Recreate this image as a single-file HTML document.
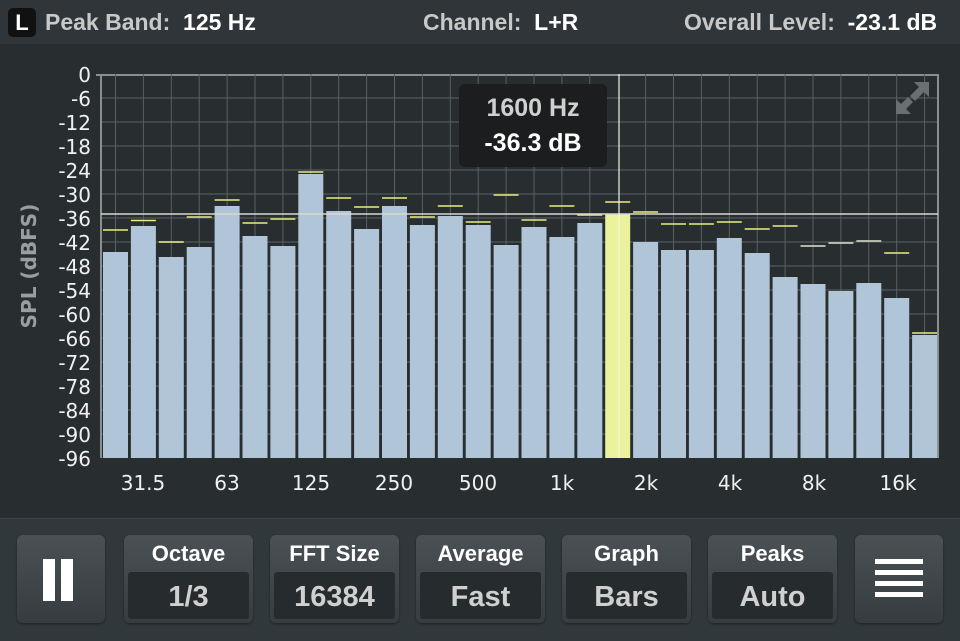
<!DOCTYPE html>
<html><head><meta charset="utf-8"><style>
body{margin:0;width:960px;height:640px;background:#282d2f;overflow:hidden;font-family:"Liberation Sans",sans-serif;position:relative}
.top{position:absolute;left:0;top:0;width:960px;height:44px;background:#2f3538;color:#c8c8c8;font-weight:bold;font-size:23px}
.top span{position:absolute;top:9px;white-space:pre}
.top b{color:#fff}
.bot{position:absolute;left:0;top:518px;width:960px;height:122px;background:#31383b;border-top:1px solid #3c4447}
.btn{position:absolute;top:16px;height:88px;border-radius:6px;background:linear-gradient(#4a5155,#363d40);box-shadow:0 1px 2px #1d2224}
.btn .l{position:absolute;top:6px;width:100%;text-align:center;color:#fff;font-weight:bold;font-size:22px}
.btn .v{position:absolute;left:4px;right:4px;top:37px;height:47px;background:#262b2d;border-radius:3px;text-align:center;color:#d0d0d0;font-weight:bold;font-size:29px;line-height:50px}
</style></head><body>
<div class="top">
<div style="position:absolute;left:8px;top:8px;width:28px;height:29px;background:#111;border-radius:5px;color:#fff;text-align:center;line-height:29px;font-size:22px">L</div>
<span style="left:45px">Peak Band:  <b>125 Hz</b></span>
<span style="left:423px">Channel:  <b>L+R</b></span>
<span style="left:684px">Overall Level:  <b>-23.1 dB</b></span>
</div>
<svg width="960" height="518" style="position:absolute;left:0;top:0" font-family="DejaVu Sans, sans-serif">
<g stroke="#41484b" stroke-width="2">
<line x1="101" x2="938" y1="98" y2="98"/><line x1="101" x2="938" y1="122" y2="122"/><line x1="101" x2="938" y1="146" y2="146"/><line x1="101" x2="938" y1="170" y2="170"/><line x1="101" x2="938" y1="194" y2="194"/><line x1="101" x2="938" y1="218" y2="218"/><line x1="101" x2="938" y1="242" y2="242"/><line x1="101" x2="938" y1="266" y2="266"/><line x1="101" x2="938" y1="290" y2="290"/><line x1="101" x2="938" y1="314" y2="314"/><line x1="101" x2="938" y1="338" y2="338"/><line x1="101" x2="938" y1="362" y2="362"/><line x1="101" x2="938" y1="386" y2="386"/><line x1="101" x2="938" y1="410" y2="410"/><line x1="101" x2="938" y1="434" y2="434"/>
</g>
<g stroke="#8a8f91" stroke-width="2"><line x1="96" x2="938" y1="75" y2="75"/><line x1="101" x2="101" y1="74" y2="458"/><line x1="938" x2="938" y1="74" y2="458"/></g>
<g stroke="#5a6063" stroke-width="1">
<line x1="115.5" x2="115.5" y1="74" y2="458"/><line x1="143.4" x2="143.4" y1="74" y2="458"/><line x1="171.3" x2="171.3" y1="74" y2="458"/><line x1="199.2" x2="199.2" y1="74" y2="458"/><line x1="227.1" x2="227.1" y1="74" y2="458"/><line x1="255" x2="255" y1="74" y2="458"/><line x1="282.9" x2="282.9" y1="74" y2="458"/><line x1="310.8" x2="310.8" y1="74" y2="458"/><line x1="338.7" x2="338.7" y1="74" y2="458"/><line x1="366.6" x2="366.6" y1="74" y2="458"/><line x1="394.5" x2="394.5" y1="74" y2="458"/><line x1="422.4" x2="422.4" y1="74" y2="458"/><line x1="450.3" x2="450.3" y1="74" y2="458"/><line x1="478.2" x2="478.2" y1="74" y2="458"/><line x1="506.1" x2="506.1" y1="74" y2="458"/><line x1="534" x2="534" y1="74" y2="458"/><line x1="561.9" x2="561.9" y1="74" y2="458"/><line x1="589.8" x2="589.8" y1="74" y2="458"/><line x1="645.6" x2="645.6" y1="74" y2="458"/><line x1="673.5" x2="673.5" y1="74" y2="458"/><line x1="701.4" x2="701.4" y1="74" y2="458"/><line x1="729.3" x2="729.3" y1="74" y2="458"/><line x1="757.2" x2="757.2" y1="74" y2="458"/><line x1="785.1" x2="785.1" y1="74" y2="458"/><line x1="813" x2="813" y1="74" y2="458"/><line x1="840.9" x2="840.9" y1="74" y2="458"/><line x1="868.8" x2="868.8" y1="74" y2="458"/><line x1="896.7" x2="896.7" y1="74" y2="458"/><line x1="924.6" x2="924.6" y1="74" y2="458"/>
</g>
<g fill="#b0c6d8">
<rect x="103" y="252" width="25" height="206"/><rect x="130.9" y="226" width="25" height="232"/><rect x="158.8" y="257" width="25" height="201"/><rect x="186.7" y="247" width="25" height="211"/><rect x="214.6" y="206" width="25" height="252"/><rect x="242.5" y="236" width="25" height="222"/><rect x="270.4" y="246" width="25" height="212"/><rect x="298.3" y="174" width="25" height="284"/><rect x="326.2" y="211" width="25" height="247"/><rect x="354.1" y="229" width="25" height="229"/><rect x="382" y="206" width="25" height="252"/><rect x="409.9" y="225" width="25" height="233"/><rect x="437.8" y="216" width="25" height="242"/><rect x="465.7" y="225" width="25" height="233"/><rect x="493.6" y="245" width="25" height="213"/><rect x="521.5" y="227" width="25" height="231"/><rect x="549.4" y="237" width="25" height="221"/><rect x="577.3" y="223" width="25" height="235"/><rect x="633.1" y="242" width="25" height="216"/><rect x="661" y="250" width="25" height="208"/><rect x="688.9" y="250" width="25" height="208"/><rect x="716.8" y="238" width="25" height="220"/><rect x="744.7" y="253" width="25" height="205"/><rect x="772.6" y="277" width="25" height="181"/><rect x="800.5" y="284" width="25" height="174"/><rect x="828.4" y="291" width="25" height="167"/><rect x="856.3" y="283" width="25" height="175"/><rect x="884.2" y="298" width="25" height="160"/><rect x="912.1" y="335" width="25" height="123"/>
</g>
<rect x="605.2" y="214" width="25" height="244" fill="#eaf29c"/>
<g stroke="#e8ef80" stroke-width="1.5">
<line x1="103" x2="128" y1="230" y2="230"/><line x1="130.9" x2="155.9" y1="220.5" y2="220.5"/><line x1="158.8" x2="183.8" y1="242" y2="242"/><line x1="186.7" x2="211.7" y1="217" y2="217"/><line x1="214.6" x2="239.6" y1="200" y2="200"/><line x1="242.5" x2="267.5" y1="223" y2="223"/><line x1="270.4" x2="295.4" y1="219" y2="219"/><line x1="298.3" x2="323.3" y1="172" y2="172"/><line x1="326.2" x2="351.2" y1="198" y2="198"/><line x1="354.1" x2="379.1" y1="207" y2="207"/><line x1="382" x2="407" y1="198" y2="198"/><line x1="409.9" x2="434.9" y1="217" y2="217"/><line x1="437.8" x2="462.8" y1="206" y2="206"/><line x1="465.7" x2="490.7" y1="222" y2="222"/><line x1="493.6" x2="518.6" y1="195" y2="195"/><line x1="521.5" x2="546.5" y1="220" y2="220"/><line x1="549.4" x2="574.4" y1="206" y2="206"/><line x1="577.3" x2="602.3" y1="215" y2="215"/><line x1="605.2" x2="630.2" y1="202" y2="202"/><line x1="633.1" x2="658.1" y1="212" y2="212"/><line x1="661" x2="686" y1="224" y2="224"/><line x1="688.9" x2="713.9" y1="224" y2="224"/><line x1="716.8" x2="741.8" y1="222" y2="222"/><line x1="744.7" x2="769.7" y1="229" y2="229"/><line x1="772.6" x2="797.6" y1="226" y2="226"/><line x1="800.5" x2="825.5" y1="246" y2="246" stroke="#dfe4d0"/><line x1="828.4" x2="853.4" y1="243" y2="243" stroke="#dfe4d0"/><line x1="856.3" x2="881.3" y1="241" y2="241" stroke="#dfe4d0"/><line x1="884.2" x2="909.2" y1="253" y2="253"/><line x1="912.1" x2="937.1" y1="333" y2="333"/>
</g>
<line x1="101" x2="938" y1="214" y2="214" stroke="#d8d8d0" stroke-width="1.5"/>
<line x1="619" x2="619" y1="74" y2="458" stroke="#f4f4e0" stroke-width="1.2"/>
<rect x="459" y="84" width="148" height="83" rx="6" fill="#1a1c1d" opacity="0.95"/>
<text x="533" y="116" fill="#d0d0d0" font-family="Liberation Sans" font-weight="bold" font-size="25" text-anchor="middle">1600 Hz</text>
<text x="533" y="151" fill="#fff" font-family="Liberation Sans" font-weight="bold" font-size="25" text-anchor="middle">-36.3 dB</text>
<g fill="#6a6f71"><polygon points="929,82 929,97 924,92 915,101 910,96 919,87 914,82"/><polygon points="896,114 896,99 901,104 908,97 913,102 906,109 911,114"/></g>
<g fill="#f0f0f0" font-size="20" text-anchor="end">
<text x="91" y="82">0</text><text x="91" y="106">-6</text><text x="91" y="130">-12</text><text x="91" y="154">-18</text><text x="91" y="178">-24</text><text x="91" y="202">-30</text><text x="91" y="226">-36</text><text x="91" y="250">-42</text><text x="91" y="274">-48</text><text x="91" y="298">-54</text><text x="91" y="322">-60</text><text x="91" y="346">-66</text><text x="91" y="370">-72</text><text x="91" y="394">-78</text><text x="91" y="418">-84</text><text x="91" y="442">-90</text><text x="91" y="466">-96</text>
</g>
<text transform="translate(36,266) rotate(-90)" fill="#9a9e9f" font-weight="bold" font-size="20" text-anchor="middle">SPL (dBFS)</text>
<g fill="#f0f0f0" font-size="20" text-anchor="middle">
<text x="143" y="490">31.5</text><text x="227" y="490">63</text><text x="311" y="490">125</text><text x="394" y="490">250</text><text x="478" y="490">500</text><text x="562" y="490">1k</text><text x="646" y="490">2k</text><text x="730" y="490">4k</text><text x="814" y="490">8k</text><text x="898" y="490">16k</text>
</g>
</svg>
<div class="bot">
<div class="btn" style="left:17px;width:88px"><div style="position:absolute;left:26px;top:24px;width:12px;height:42px;background:#fff"></div><div style="position:absolute;left:44px;top:24px;width:12px;height:42px;background:#fff"></div></div>
<div class="btn" style="left:124px;width:129px"><div class="l">Octave</div><div class="v">1/3</div></div>
<div class="btn" style="left:270px;width:129px"><div class="l">FFT Size</div><div class="v">16384</div></div>
<div class="btn" style="left:416px;width:129px"><div class="l">Average</div><div class="v">Fast</div></div>
<div class="btn" style="left:562px;width:129px"><div class="l">Graph</div><div class="v">Bars</div></div>
<div class="btn" style="left:708px;width:129px"><div class="l">Peaks</div><div class="v">Auto</div></div>
<div class="btn" style="left:855px;width:88px">
<div style="position:absolute;left:20px;top:24px;width:48px;height:5px;background:#fff"></div><div style="position:absolute;left:20px;top:35px;width:48px;height:5px;background:#fff"></div><div style="position:absolute;left:20px;top:46px;width:48px;height:5px;background:#fff"></div><div style="position:absolute;left:20px;top:57px;width:48px;height:5px;background:#fff"></div></div>
</div>
</body></html>
